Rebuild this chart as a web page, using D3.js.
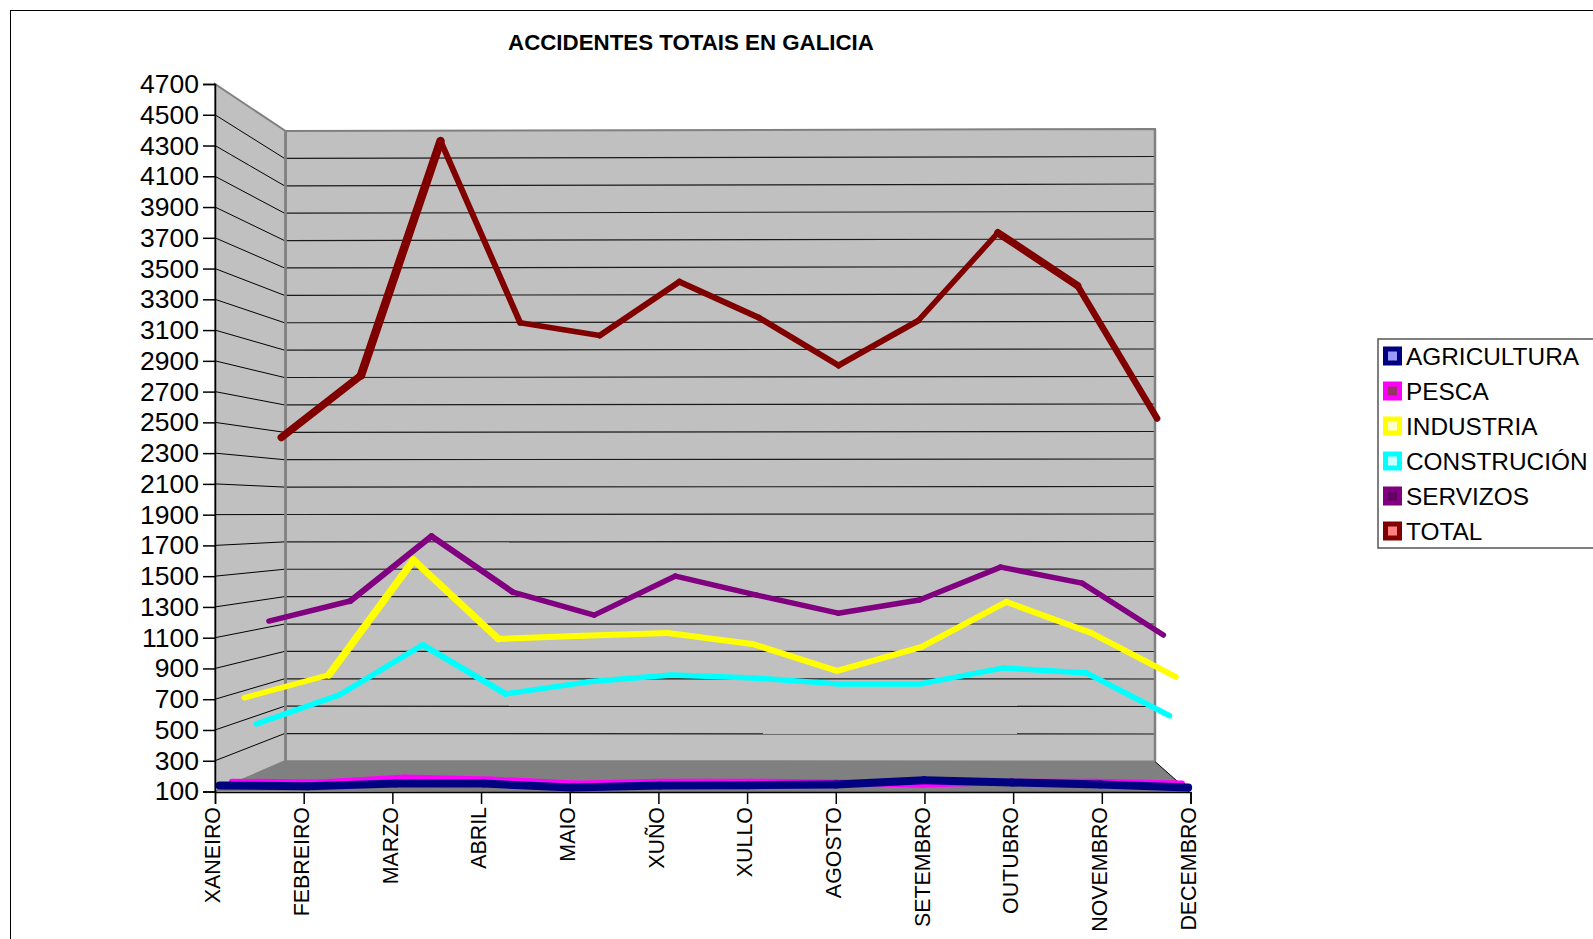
<!DOCTYPE html>
<html>
<head>
<meta charset="utf-8">
<title>Accidentes totais en Galicia</title>
<script src="https://cdnjs.cloudflare.com/ajax/libs/d3/7.8.5/d3.min.js"></script>
<style>
  html, body { margin: 0; padding: 0; background: #fff; overflow: hidden; }
  svg { display: block; }
  text { font-family: "Liberation Sans", Arial, sans-serif; fill: #000; }
</style>
</head>
<body>
<div id="chart"></div>
<script>
// Chart values
var months = ["XANEIRO", "FEBREIRO", "MARZO", "ABRIL", "MAIO", "XUÑO", "XULLO", "AGOSTO", "SETEMBRO", "OUTUBRO", "NOVEMBRO", "DECEMBRO"];
var yTicks = [100, 300, 500, 700, 900, 1100, 1300, 1500, 1700, 1900, 2100, 2300, 2500, 2700, 2900, 3100, 3300, 3500, 3700, 3900, 4100, 4300, 4500, 4700];

var agricultura = [126, 122, 139, 139, 113, 126, 128, 133, 161, 146, 133, 113];
var pesca = [117, 111, 144, 131, 104, 117, 117, 111, 97, 117, 117, 104];
var industria = [652, 808, 1591, 1053, 1074, 1094, 1019, 836, 999, 1305, 1094, 795];
var construcion = [445, 646, 994, 654, 737, 785, 764, 723, 723, 834, 799, 501];
var servizos = [1144, 1286, 1746, 1349, 1186, 1463, 1328, 1200, 1293, 1527, 1413, 1045];
var total = [2458, 2907, 4607, 3290, 3197, 3587, 3326, 2980, 3305, 3942, 3559, 2596];

// Series in drawing order, back of the chart first
var series = [
  { name: "TOTAL", values: total, color: "#800000", inner: "#ff8080", depth: 0.94, widths: [7.5, 8.5, 6, 5.5, 6, 6, 6, 6, 5.5, 7.5, 6.5] },
  { name: "SERVIZOS", values: servizos, color: "#800080", inner: "#660066", depth: 0.765, widths: [5.5, 6, 6, 5.5, 5.5, 5.5, 5.5, 5.5, 5.5, 5.5, 5.5] },
  { name: "CONSTRUCIÓN", values: construcion, color: "#00ffff", inner: "#ccffff", depth: 0.59, widths: [5.5, 5.5, 6, 5.5, 5.5, 5.5, 5.5, 5.5, 5.5, 5.5, 5.5] },
  { name: "INDUSTRIA", values: industria, color: "#ffff00", inner: "#ffffcc", depth: 0.415, widths: [5.5, 7.5, 7, 6, 6, 6, 6, 6, 6, 6, 6] },
  { name: "PESCA", values: pesca, color: "#ff00ff", inner: "#993366", depth: 0.24, widths: [6, 6, 6, 6, 6, 6, 6, 6, 6, 6, 6] },
  { name: "AGRICULTURA", values: agricultura, color: "#000080", inner: "#9999ff", depth: 0.065, widths: [8, 8, 8, 8, 8, 8, 8, 8, 8, 8, 8] }
];
var legendOrder = ["AGRICULTURA", "PESCA", "INDUSTRIA", "CONSTRUCIÓN", "SERVIZOS", "TOTAL"];

// Define SVG area dimensions
var svgWidth = 1593;
var svgHeight = 939;

var svg = d3.select("#chart")
  .append("svg")
  .attr("width", svgWidth)
  .attr("height", svgHeight);

// Outer frame runs off the right and bottom of the picture
svg.append("rect")
  .attr("x", 10.5)
  .attr("y", 10.5)
  .attr("width", svgWidth + 20)
  .attr("height", svgHeight + 20)
  .attr("fill", "#fff")
  .attr("stroke", "#000")
  .attr("stroke-width", 1);

// Front plane scales (where the axes sit)
var xFront = d3.scalePoint().domain(months).range([215, 1190.5]);
var yFront = d3.scaleLinear().domain([100, 4700]).range([791.5, 84]);

// Back wall scales
var xBack = d3.scalePoint().domain(months).range([285.5, 1155]);
var yBackLeft = d3.scaleLinear().domain([100, 4700]).range([761, 131]);
var yBackRight = d3.scaleLinear().domain([100, 4700]).range([761.5, 129]);

// Project a value at a given depth (0 = front, 1 = back)
function px(month, depth) {
  return xFront(month) + (xBack(month) - xFront(month)) * depth;
}
function py(value, depth) {
  return yFront(value) + (yBackLeft(value) - yFront(value)) * depth;
}

var wallColor = "#c0c0c0";
var edgeColor = "#808080";

// Back wall
svg.append("polygon")
  .attr("points", [[285.5, yBackLeft(4700)], [1155, yBackRight(4700)], [1155, yBackRight(100)], [285.5, yBackLeft(100)]].join(" "))
  .attr("fill", wallColor)
  .attr("stroke", edgeColor)
  .attr("stroke-width", 2);

// Side wall
svg.append("polygon")
  .attr("points", [[215, yFront(4700)], [285.5, yBackLeft(4700)], [285.5, yBackLeft(100)], [215, yFront(100)]].join(" "))
  .attr("fill", wallColor)
  .attr("stroke", edgeColor)
  .attr("stroke-width", 2);

// Floor
svg.append("polygon")
  .attr("points", [[215, yFront(100)], [285.5, yBackLeft(100)], [1155, yBackRight(100)], [1190.5, 793]].join(" "))
  .attr("fill", "#808080");

svg.append("line")
  .attr("x1", 1155).attr("y1", 761.5).attr("x2", 1190.5).attr("y2", 793)
  .attr("stroke", "#000")
  .attr("stroke-width", 1);

// Gridlines on both walls
var gridValues = yTicks.slice(1, -1);

svg.append("g").selectAll("line.back")
  .data(gridValues)
  .join("line")
  .attr("x1", 286.5)
  .attr("y1", d => yBackLeft(d))
  .attr("x2", 1154)
  .attr("y2", d => yBackRight(d))
  .attr("stroke", "#1a1a1a")
  .attr("stroke-width", 1.2);

svg.append("g").selectAll("line.side")
  .data(gridValues)
  .join("line")
  .attr("x1", 215)
  .attr("y1", d => yFront(d))
  .attr("x2", 284.5)
  .attr("y2", d => yBackLeft(d))
  .attr("stroke", "#000")
  .attr("stroke-width", 1);

svg.append("line")
  .attr("x1", 285.5).attr("y1", 131).attr("x2", 285.5).attr("y2", 761)
  .attr("stroke", edgeColor)
  .attr("stroke-width", 2.5);

svg.append("line")
  .attr("x1", 1155).attr("y1", 129).attr("x2", 1155).attr("y2", 761.5)
  .attr("stroke", edgeColor)
  .attr("stroke-width", 2.5);

// Series lines, one segment at a time because the width changes along the line
series.forEach(function (s) {
  var segments = d3.pairs(s.values.map((v, i) => ({ month: months[i], value: v })));
  svg.append("g").selectAll("line")
    .data(segments)
    .join("line")
    .attr("x1", d => px(d[0].month, s.depth))
    .attr("y1", d => py(d[0].value, s.depth))
    .attr("x2", d => px(d[1].month, s.depth))
    .attr("y2", d => py(d[1].value, s.depth))
    .attr("stroke", s.color)
    .attr("stroke-width", (d, i) => s.widths[i])
    .attr("stroke-linecap", "round");
});

// Left axis
var leftAxis = d3.axisLeft(yFront)
  .tickValues(yTicks)
  .tickFormat(d3.format("d"))
  .tickSize(12)
  .tickPadding(4);

var yAxis = svg.append("g")
  .attr("transform", "translate(215, 0)")
  .call(leftAxis);
yAxis.selectAll("text")
  .style("font-size", "26.5px")
  .style("font-family", "'Liberation Sans', Arial, sans-serif");
yAxis.selectAll("line, path").attr("stroke", "#000").attr("stroke-width", 1.5);

// Bottom axis with rotated month names
var bottomAxis = d3.axisBottom(xFront)
  .tickSize(12)
  .tickPadding(0);

var xAxis = svg.append("g")
  .attr("transform", "translate(0, 792)")
  .call(bottomAxis);
xAxis.selectAll("line, path").attr("stroke", "#000").attr("stroke-width", 1.5);
xAxis.selectAll("text")
  .attr("transform", "rotate(-90)")
  .attr("x", -15)
  .attr("y", -3)
  .attr("dy", "0.36em")
  .attr("text-anchor", "end")
  .style("font-size", "21.4px")
  .style("font-family", "'Liberation Sans', Arial, sans-serif");

// Title
svg.append("text")
  .attr("x", 691)
  .attr("y", 50)
  .attr("text-anchor", "middle")
  .attr("font-size", "22.3px")
  .attr("font-weight", "bold")
  .text("ACCIDENTES TOTAIS EN GALICIA");

// Legend, the box runs off the right side of the picture
svg.append("rect")
  .attr("x", 1378)
  .attr("y", 339)
  .attr("width", 260)
  .attr("height", 209)
  .attr("fill", "#fff")
  .attr("stroke", "#555")
  .attr("stroke-width", 1.5);

var legendY = d3.scalePoint().domain(legendOrder).range([356, 531]);

var legendRows = svg.append("g").selectAll("g")
  .data(legendOrder.map(name => series.find(s => s.name === name)))
  .join("g")
  .attr("transform", d => `translate(0, ${legendY(d.name)})`);

legendRows.append("rect")
  .attr("x", 1385.5)
  .attr("y", -7)
  .attr("width", 14)
  .attr("height", 14)
  .attr("fill", d => d.inner)
  .attr("stroke", d => d.color)
  .attr("stroke-width", 5);

legendRows.append("text")
  .attr("x", 1406)
  .attr("y", 9)
  .attr("font-size", "24.4px")
  .text(d => d.name);
</script>
</body>
</html>
